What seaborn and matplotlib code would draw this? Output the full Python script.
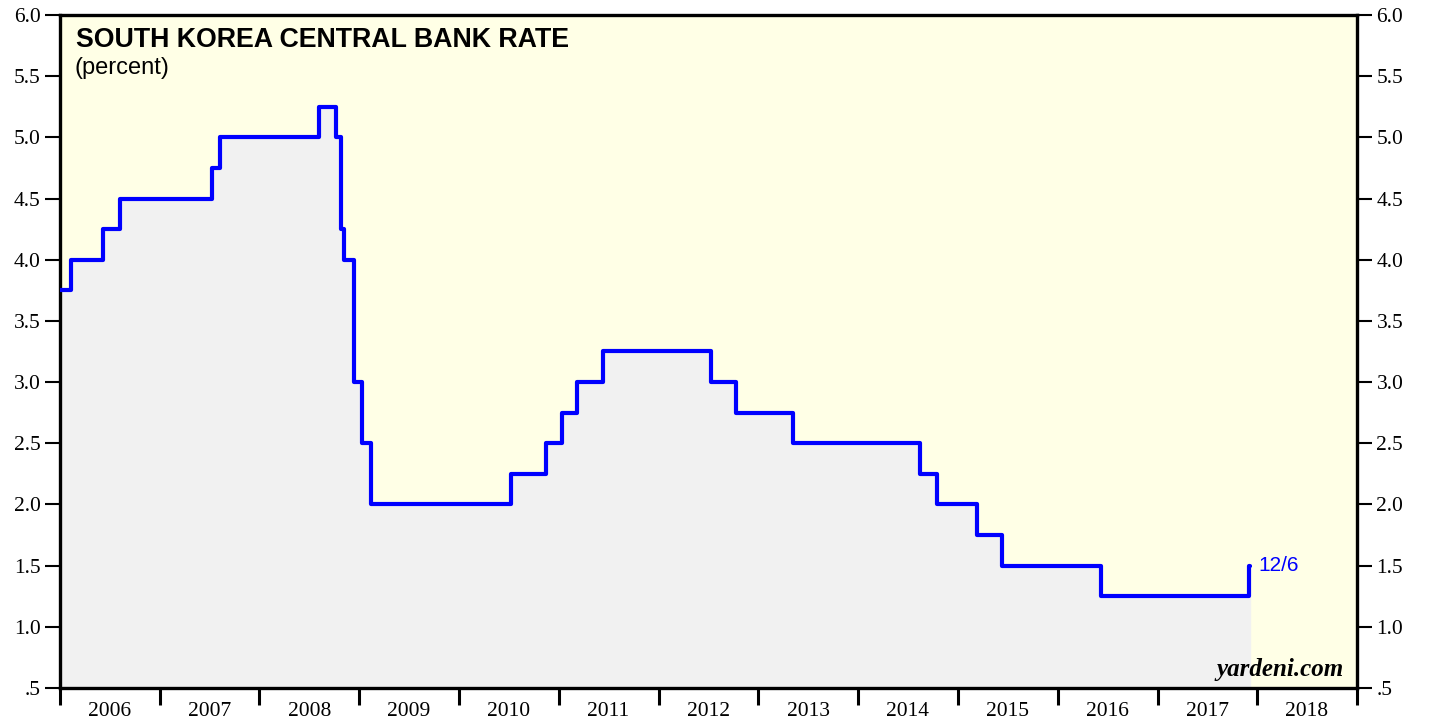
import matplotlib
matplotlib.use("Agg")
import matplotlib.pyplot as plt
import matplotlib.dates as mdates
import seaborn as sns
import pandas as pd
import numpy as np

# Bank of Korea base rate change dates and levels (percent)
dates = ["2006-01-01", "2006-02-09", "2006-06-08", "2006-08-10", "2007-07-12",
         "2007-08-09", "2008-08-07", "2008-10-09", "2008-10-27", "2008-11-07",
         "2008-12-11", "2009-01-09", "2009-02-12", "2010-07-09", "2010-11-16",
         "2011-01-13", "2011-03-10", "2011-06-10", "2012-07-12", "2012-10-11",
         "2013-05-09", "2014-08-14", "2014-10-15", "2015-03-12", "2015-06-11",
         "2016-06-09", "2017-11-30", "2017-12-06"]
rates = [3.75, 4.00, 4.25, 4.50, 4.75,
         5.00, 5.25, 5.00, 4.25, 4.00,
         3.00, 2.50, 2.00, 2.25, 2.50,
         2.75, 3.00, 3.25, 3.00, 2.75,
         2.50, 2.25, 2.00, 1.75, 1.50,
         1.25, 1.50, 1.50]
years = list(range(2006, 2019))
yticks = [0.5, 1.0, 1.5, 2.0, 2.5, 3.0, 3.5, 4.0, 4.5, 5.0, 5.5, 6.0]
ytick_labels = [".5", "1.0", "1.5", "2.0", "2.5", "3.0", "3.5", "4.0", "4.5", "5.0", "5.5", "6.0"]
title = "SOUTH KOREA CENTRAL BANK RATE"
subtitle = "(percent)"
end_label = "12/6"
source = "yardeni.com"

df = pd.DataFrame({"date": pd.to_datetime(dates), "rate": rates})

sns.set_theme(style="white")
plt.rcParams["font.family"] = ["Liberation Serif", "DejaVu Serif"]
plt.rcParams["text.color"] = "black"
plt.rcParams["xtick.color"] = "black"
plt.rcParams["ytick.color"] = "black"

fig = plt.figure(figsize=(14.29, 7.21), dpi=100)
ax = fig.add_axes([0.042, 0.046, 0.9076, 0.933])
ax.set_facecolor("#ffffe6")

ax.fill_between(df["date"], 0, df["rate"], step="post", color="#f1f1f1", zorder=1)
sns.lineplot(data=df, x="date", y="rate", ax=ax, color="#0000ff", linewidth=3.0,
             drawstyle="steps-post", zorder=3)

ax.set_xlim(pd.Timestamp("2006-01-01"), pd.Timestamp("2019-01-01"))
ax.set_ylim(0.5, 6.0)
ax.set_xlabel("")
ax.set_ylabel("")

# Y axis ticks both sides
ax.set_yticks(yticks)
ax.set_yticklabels(ytick_labels)
ax.tick_params(axis="y", which="major", direction="out", length=11, width=1.5,
               labelsize=15.5, left=True, right=True, labelleft=True, labelright=True,
               pad=3, labelcolor="black")

# X axis: ticks at year boundaries, labels centred between them
ax.xaxis.set_major_locator(mdates.YearLocator())
ax.xaxis.set_major_formatter(plt.NullFormatter())
mids = [pd.Timestamp(f"{y}-07-02") for y in years]
ax.set_xticks(mids, minor=True)
ax.set_xticklabels([str(y) for y in years], minor=True)
ax.tick_params(axis="x", which="major", direction="out", length=12, width=2.2, bottom=True)
ax.tick_params(axis="x", which="minor", length=0, labelsize=15.5, pad=10, labelcolor="black")

for s in ax.spines.values():
    s.set_linewidth(2.4)
    s.set_color("black")

ax.text(0.0125, 0.983, title, transform=ax.transAxes, fontsize=19.3, fontweight="bold",
        family=["Liberation Sans", "DejaVu Sans"], va="top", ha="left", color="black")
ax.text(0.0115, 0.938, subtitle, transform=ax.transAxes, fontsize=17,
        family=["Liberation Sans", "DejaVu Sans"], va="top", ha="left", color="black")

last = df.iloc[-1]
ax.annotate(end_label, xy=(last["date"], last["rate"]), xytext=(6, 0),
            textcoords="offset points", color="#0000ff", fontsize=15,
            family=["Liberation Sans", "DejaVu Sans"], va="center", ha="left")

ax.text(0.99, 0.01, source, transform=ax.transAxes, fontsize=18, fontweight="bold",
        fontstyle="italic", ha="right", va="bottom", color="black")

fig.savefig("out.png", dpi=100)
